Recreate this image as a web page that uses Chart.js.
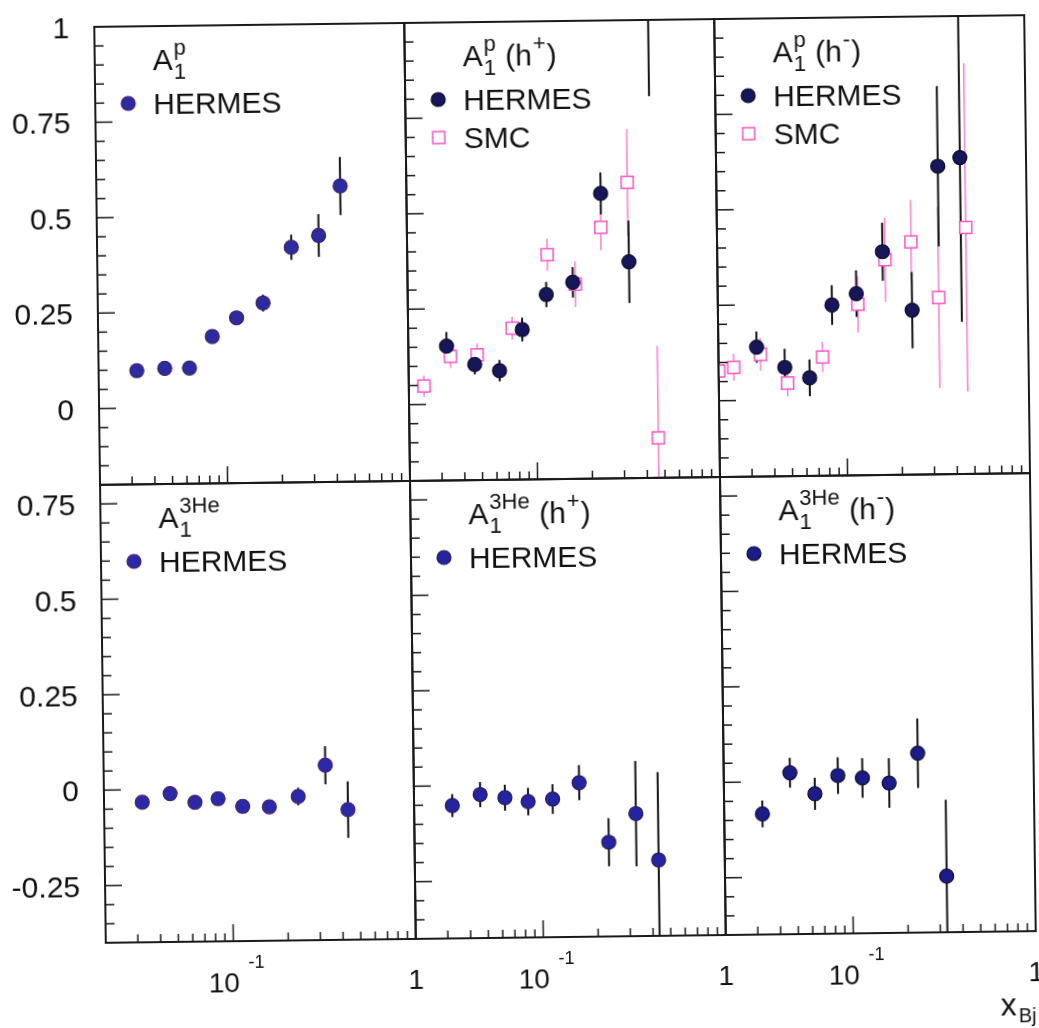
<!DOCTYPE html>
<html>
<head>
<meta charset="utf-8">
<script src="https://cdn.jsdelivr.net/npm/chart.js@4/dist/chart.umd.min.js"></script>
<style>
html, body { margin: 0; padding: 0; background: #fff; width: 1039px; height: 1028px; overflow: hidden; }
#fig { position: absolute; left: 0; top: 0; width: 1039px; height: 1028px;
       transform: rotate(-0.72deg); transform-origin: 565px 479px; }
#fig canvas { position: absolute; }
</style>
</head>
<body>
<div id="fig"></div>
<script>
const FONT = '"Liberation Sans", Arial, Helvetica, sans-serif';

// x_Bj bin centres
const xHermes = [0.0324, 0.0461, 0.063, 0.0844, 0.115, 0.161, 0.232, 0.328, 0.434];
const xSmcPlus = [0.0242, 0.034, 0.0476, 0.0744, 0.117, 0.166, 0.231, 0.325, 0.462];
const xSmcMinus = [0.02, 0.0242, 0.034, 0.0476, 0.0744, 0.117, 0.166, 0.231, 0.325, 0.462];

// A1 proton
const a1p = [0.098, 0.103, 0.103, 0.185, 0.233, 0.271, 0.416, 0.446, 0.575];
const a1pErr = [0.01, 0.01, 0.01, 0.014, 0.015, 0.022, 0.033, 0.056, 0.076];
const a1pPlus = [0.152, 0.103, 0.086, 0.193, 0.284, 0.315, 0.547, 0.367, 1.25];
const a1pPlusErr = [0.037, 0.026, 0.028, 0.031, 0.033, 0.04, 0.055, 0.108, 0.45];
const smcPlus = [0.048, 0.125, 0.128, 0.197, 0.388, 0.31, 0.458, 0.575, -0.095];
const smcPlusErr = [0.028, 0.03, 0.03, 0.03, 0.042, 0.06, 0.06, 0.14, 0.24];
const a1pMinus = [0.139, 0.085, 0.057, 0.247, 0.276, 0.385, 0.231, 0.607, 0.629];
const a1pMinusErr = [0.041, 0.049, 0.048, 0.052, 0.061, 0.076, 0.1, 0.21, 0.43];
const smcMinus = [0.078, 0.087, 0.12, 0.044, 0.111, 0.248, 0.364, 0.41, 0.263, 0.446];
const smcMinusErr = [0.04, 0.035, 0.043, 0.035, 0.04, 0.074, 0.11, 0.11, 0.237, 0.43];

// A1 3He
const a1He = [-0.033, -0.011, -0.035, -0.026, -0.047, -0.049, -0.023, 0.058, -0.059];
const a1HeErr = [0.01, 0.01, 0.01, 0.01, 0.012, 0.014, 0.023, 0.05, 0.074];
const a1HePlus = [-0.052, -0.024, -0.033, -0.044, -0.038, 0.004, -0.153, -0.079, -0.201];
const a1HePlusErr = [0.03, 0.033, 0.034, 0.036, 0.039, 0.046, 0.063, 0.138, 0.23];
const a1HeMinus = [-0.084, 0.023, -0.033, 0.014, 0.007, -0.007, 0.07, -0.253];
const a1HeMinusErr = [0.035, 0.039, 0.042, 0.048, 0.052, 0.065, 0.091, 0.2];

// axes
const xRange = [0.02, 1];
const yRangeTop = [-0.2, 1];
const yRangeBottom = [-0.4, 0.8];
const yTicksTop = [0, 0.25, 0.5, 0.75, 1];
const yTicksBottom = [-0.25, 0, 0.25, 0.5, 0.75];

const PINK = '#ff52c6';
const PINK_ERR = '#ff7fd2';
const AREA_W = 310, AREA_H = 458, LEFT0 = 100, TOP0 = 21;

const panels = [
  { row: 0, col: 0, title: ['A', { sup: 'p', sub: '1' }],
    hermes: [xHermes, a1p, a1pErr], fill: '#2c2ca0', edge: '#3c1d6c' },
  { row: 0, col: 1, title: ['A', { sup: 'p', sub: '1' }, ' (h', { sup: '+' }, ')'],
    hermes: [xHermes, a1pPlus, a1pPlusErr], smc: [xSmcPlus, smcPlus, smcPlusErr], fill: '#161659', edge: '#0a0a30' },
  { row: 0, col: 2, title: ['A', { sup: 'p', sub: '1' }, ' (h', { sup: '-' }, ')'],
    hermes: [xHermes, a1pMinus, a1pMinusErr], smc: [xSmcMinus, smcMinus, smcMinusErr], fill: '#161659', edge: '#0a0a30' },
  { row: 1, col: 0, title: ['A', { sup: '3He', sub: '1' }],
    hermes: [xHermes, a1He, a1HeErr], fill: '#2a2aa8', edge: '#4a1f70' },
  { row: 1, col: 1, title: ['A', { sup: '3He', sub: '1' }, ' (h', { sup: '+' }, ')'],
    hermes: [xHermes, a1HePlus, a1HePlusErr], fill: '#2424a0', edge: '#2a1a60' },
  { row: 1, col: 2, title: ['A', { sup: '3He', sub: '1' }, ' (h', { sup: '-' }, ')'],
    hermes: [xHermes, a1HeMinus, a1HeMinusErr], fill: '#1c1c86', edge: '#0d0d40' }
];

function drawMath(ctx, x, y, tokens) {
  ctx.fillStyle = '#111';
  ctx.textAlign = 'left';
  ctx.textBaseline = 'alphabetic';
  for (const t of tokens) {
    if (typeof t === 'string') {
      ctx.font = '30px ' + FONT;
      ctx.fillText(t, x, y);
      x += ctx.measureText(t).width;
    } else {
      ctx.font = '22px ' + FONT;
      let w = 0;
      if (t.sup) { ctx.fillText(t.sup, x + 1, y - 15); w = Math.max(w, ctx.measureText(t.sup).width); }
      if (t.sub) { ctx.fillText(t.sub, x + 1, y + 9); w = Math.max(w, ctx.measureText(t.sub).width); }
      x += w + 2;
    }
  }
}

function makeDecor(p) {
  return {
    id: 'decor',
    beforeDatasetsDraw(chart) {
      const { ctx, chartArea: a } = chart;
      const xs = chart.scales.x, ys = chart.scales.y;
      ctx.save();
      ctx.beginPath();
      ctx.rect(a.left - 12, a.top, a.width + 24, a.height);
      ctx.clip();
      for (let d = chart.data.datasets.length - 1; d >= 0; d--) {
        const ds = chart.data.datasets[d];
        ctx.strokeStyle = ds.errColor;
        ctx.lineWidth = ds.errWidth;
        ds.data.forEach((pt, i) => {
          const e = ds.errors[i];
          const px = xs.getPixelForValue(pt.x);
          ctx.beginPath();
          ctx.moveTo(px, ys.getPixelForValue(pt.y - e));
          ctx.lineTo(px, ys.getPixelForValue(pt.y + e));
          ctx.stroke();
        });
      }
      ctx.restore();
    },
    afterDatasetsDraw(chart) {
      const { ctx, chartArea: a } = chart;
      const xs = chart.scales.x, ys = chart.scales.y;
      ctx.save();
      // frame
      ctx.strokeStyle = '#1a1a1a';
      ctx.lineWidth = 2;
      ctx.strokeRect(a.left, a.top, a.width, a.height);
      // y ticks, every 0.05, pointing inwards
      ctx.lineWidth = 1.5;
      const k0 = Math.ceil(ys.min / 0.05 - 1e-6), k1 = Math.floor(ys.max / 0.05 + 1e-6);
      for (let k = k0; k <= k1; k++) {
        const py = ys.getPixelForValue(k * 0.05);
        if (py <= a.top + 1 || py >= a.bottom - 1) continue;
        const len = k % 5 === 0 ? 17 : 9;
        ctx.beginPath(); ctx.moveTo(a.left, py); ctx.lineTo(a.left + len, py); ctx.stroke();
      }
      // x ticks (log)
      for (const dec of [0.01, 0.1]) {
        for (let m = 1; m <= 9; m++) {
          const v = m * dec;
          if (v <= xs.min * 1.001 || v >= xs.max * 0.999) continue;
          const px = xs.getPixelForValue(v);
          const len = m === 1 ? 17 : 8;
          ctx.beginPath(); ctx.moveTo(px, a.bottom); ctx.lineTo(px, a.bottom - len); ctx.stroke();
        }
      }
      ctx.fillStyle = '#111';
      // y labels
      if (p.col === 0) {
        ctx.font = '30px ' + FONT;
        ctx.textAlign = 'right';
        ctx.textBaseline = 'alphabetic';
        for (const v of (p.row === 0 ? yTicksTop : yTicksBottom)) {
          ctx.fillText(String(v), a.left - 25, ys.getPixelForValue(v) + 11);
        }
      }
      // x labels
      if (p.row === 1) {
        const t1 = xs.getPixelForValue(0.1);
        ctx.textBaseline = 'alphabetic';
        ctx.font = '28px ' + FONT;
        ctx.textAlign = 'left';
        ctx.fillText('10', t1 - 25, a.bottom + 51);
        ctx.font = '18px ' + FONT;
        ctx.fillText('-1', t1 + 15, a.bottom + 27);
        ctx.font = '28px ' + FONT;
        ctx.textAlign = 'center';
        ctx.fillText('1', xs.getPixelForValue(1), a.bottom + 50);
        if (p.col === 2) {
          ctx.textAlign = 'left';
          ctx.font = '32px ' + FONT;
          ctx.fillText('x', a.right - 36, a.bottom + 84);
          ctx.font = '20px ' + FONT;
          ctx.fillText('Bj', a.right - 18, a.bottom + 91);
        }
      }
      // title and legend
      drawMath(ctx, a.left + 58, a.top + 44, p.title);
      const rows = [{ name: 'HERMES', kind: 'circle' }];
      if (p.smc) rows.push({ name: 'SMC', kind: 'square' });
      rows.forEach((r, k) => {
        const cy = a.top + 77 + k * 38, cx = a.left + 33;
        if (r.kind === 'circle') {
          ctx.beginPath(); ctx.arc(cx, cy, 7, 0, 2 * Math.PI);
          ctx.fillStyle = p.fill; ctx.fill();
          ctx.strokeStyle = p.edge; ctx.lineWidth = 1.2; ctx.stroke();
        } else {
          ctx.fillStyle = '#fff'; ctx.fillRect(cx - 6, cy - 6, 12, 12);
          ctx.strokeStyle = PINK; ctx.lineWidth = 1.5; ctx.strokeRect(cx - 6, cy - 6, 12, 12);
        }
        ctx.fillStyle = '#111';
        ctx.font = '30px ' + FONT;
        ctx.textAlign = 'left';
        ctx.fillText(r.name, a.left + 58, cy + 11);
      });
      ctx.restore();
    }
  };
}

const fig = document.getElementById('fig');

panels.forEach(p => {
  const pad = { left: p.col === 0 ? 100 : 4, right: 40, top: p.row === 0 ? 20 : 4, bottom: p.row === 1 ? 100 : 4 };
  const areaLeft = LEFT0 + p.col * AREA_W, areaTop = TOP0 + p.row * AREA_H;
  const cv = document.createElement('canvas');
  cv.width = AREA_W + pad.left + pad.right;
  cv.height = AREA_H + pad.top + pad.bottom;
  cv.style.width = cv.width + 'px';
  cv.style.height = cv.height + 'px';
  cv.style.left = (areaLeft - pad.left) + 'px';
  cv.style.top = (areaTop - pad.top) + 'px';
  fig.appendChild(cv);

  const [hx, hy, he] = p.hermes;
  const datasets = [{
    label: 'HERMES',
    data: hy.map((y, i) => ({ x: hx[i], y })),
    errors: he, errColor: '#141414', errWidth: 2,
    pointStyle: 'circle', pointRadius: 7,
    backgroundColor: p.fill, borderColor: p.edge, borderWidth: 1.2
  }];
  if (p.smc) {
    const [sx, sy, se] = p.smc;
    datasets.push({
      label: 'SMC',
      data: sy.map((y, i) => ({ x: sx[i], y })),
      errors: se, errColor: PINK_ERR, errWidth: 1.5,
      pointStyle: 'rect', pointRadius: 8.5,
      backgroundColor: '#fff', borderColor: PINK, borderWidth: 1.5
    });
  }
  const yr = p.row === 0 ? yRangeTop : yRangeBottom;

  new Chart(cv, {
    type: 'scatter',
    data: { datasets },
    options: {
      responsive: false,
      animation: false,
      events: [],
      layout: { padding: pad, autoPadding: false },
      scales: {
        x: { type: 'logarithmic', min: xRange[0], max: xRange[1], display: false },
        y: { type: 'linear', min: yr[0], max: yr[1], display: false }
      },
      plugins: { legend: { display: false }, tooltip: { enabled: false } }
    },
    plugins: [makeDecor(p)]
  });
});
</script>
</body>
</html>
